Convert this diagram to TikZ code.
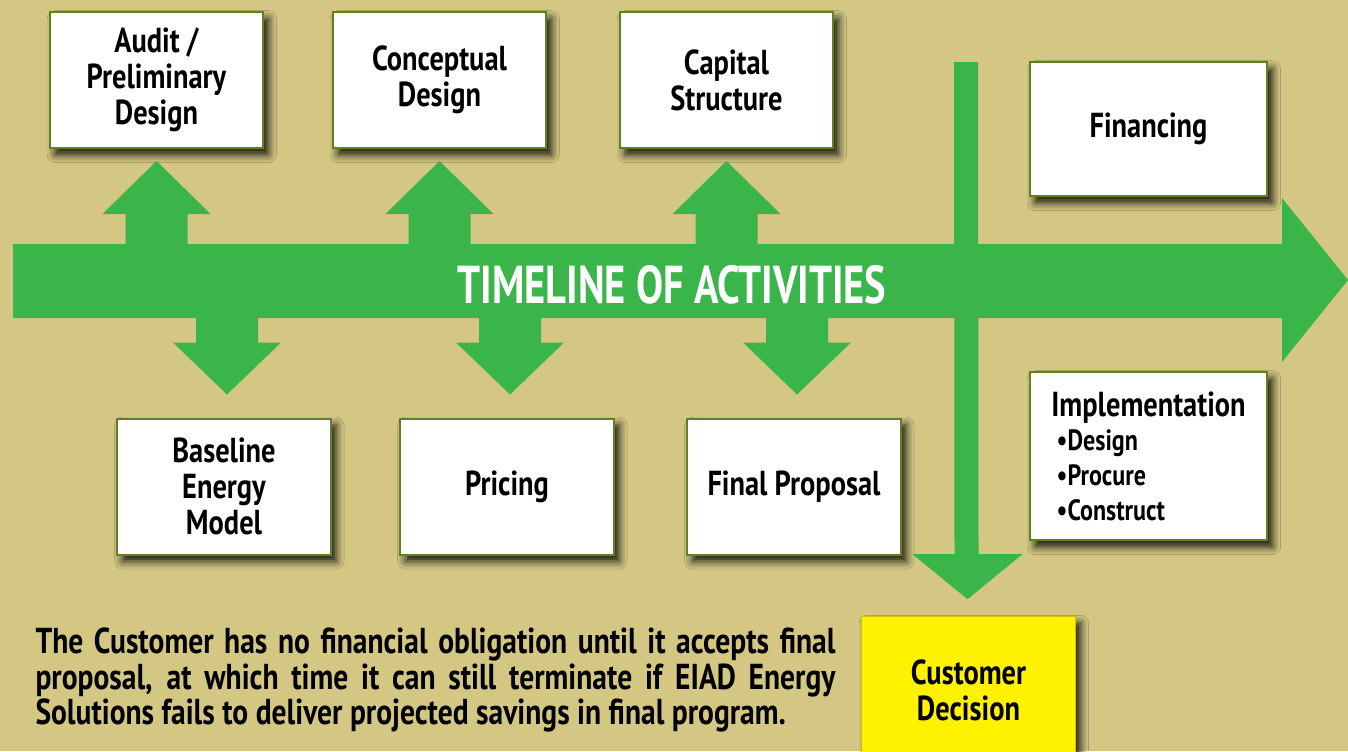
\documentclass[tikz,border=0pt]{standalone}
\usepackage{fontspec}
\setmainfont{PT Sans}[FakeStretch=0.82]
\newfontfamily\titlefont{PT Sans}[FakeStretch=0.76]
\usetikzlibrary{calc,shadows.blur}

\definecolor{bgtan}{RGB}{211,199,131}
\definecolor{timegreen}{RGB}{58,181,74}
\definecolor{boxedge}{RGB}{96,128,36}
\definecolor{decisionyellow}{RGB}{255,242,0}

\tikzset{every picture/.style={line width=0.75pt}}
\tikzset{
  stagebox/.style={draw=boxedge, line width=1.5pt, fill=white, align=center,
    minimum width=160pt, minimum height=102pt, inner sep=2pt,
    font=\fontsize{26}{27}\selectfont\bfseries,
    blur shadow={shadow xshift=4pt, shadow yshift=-5pt, shadow blur radius=6pt, shadow opacity=90}},
  timeline/.style={fill=timegreen, draw=none},
}

\begin{document}
\begin{tikzpicture}[x=0.75pt,y=0.75pt,yscale=-1,xscale=1]
%set diagram left start at 0, and has height of 751
\clip (0,0) rectangle (1348,751);
\fill[bgtan] (0,0) rectangle (1348,751);

% Stage boxes above the timeline
\node[stagebox] (audit) at (156.5,80) {Audit /\\Preliminary\\Design};
\node[stagebox] (concept) at (439.5,80) {Conceptual\\Design};
\node[stagebox] (capital) at (726.5,80) {Capital\\Structure};
\node[stagebox, minimum width=178pt, minimum height=100.5pt] (financing) at (1148.5,129) {Financing};

% Stage boxes below the timeline
\node[stagebox] (baseline) at (224,486.5) {Baseline\\Energy\\Model};
\node[stagebox] (pricing) at (507,486.5) {Pricing};
\node[stagebox] (proposal) at (794,486.5) {Final Proposal};
\node[stagebox, minimum width=178pt, minimum height=126pt, align=left] (implement) at (1148.5,456)
  {Implementation\\[-1pt]{\fontsize{22}{26}\selectfont\hspace*{4pt}\textbullet Design}\\[-1pt]
   {\fontsize{22}{26}\selectfont\hspace*{4pt}\textbullet Procure}\\[-1pt]
   {\fontsize{22}{26}\selectfont\hspace*{4pt}\textbullet Construct}};
\node[stagebox, fill=decisionyellow, draw=decisionyellow!80!black, line width=0.75pt, minimum height=110pt] (decision) at (968.5,690) {Customer\\Decision};

% Main timeline arrow
\fill[timeline] (13,244) -- (1282,244) -- (1282,198) -- (1348,280) -- (1282,362) -- (1282,318) -- (13,318) -- cycle;

% Up arrows to the boxes above
\foreach \b in {audit,concept,capital}
  \fill[timeline] ($(\b.south)+(-31,97)$) -- ($(\b.south)+(-31,65)$) -- ($(\b.south)+(-54,65)$) -- ($(\b.south)+(0,12)$)
    -- ($(\b.south)+(54,65)$) -- ($(\b.south)+(31,65)$) -- ($(\b.south)+(31,97)$) -- cycle;

% Down arrows to the boxes below
\foreach \b in {baseline,pricing,proposal}
  \fill[timeline] ($(\b.north)+(-28,-101)$) -- ($(\b.north)+(-28,-75)$) -- ($(\b.north)+(-51,-75)$) -- ($(\b.north)+(3,-23)$)
    -- ($(\b.north)+(57,-75)$) -- ($(\b.north)+(34,-75)$) -- ($(\b.north)+(34,-101)$) -- cycle;

% Decision arrow
\coordinate (decisiontop) at (966,62);
\fill[timeline] ($(decisiontop)+(-12,0)$) -- ($(decisiontop)+(12,0)$) -- ($(decision.north)+(10,-62)$) -- ($(decision.north)+(54,-62)$)
  -- ($(decision.north)+(-1,-17)$) -- ($(decision.north)+(-56,-62)$) -- ($(decision.north)+(-14,-62)$) -- cycle;

% Text Node
\node[text=white, font=\titlefont\fontsize{40}{40}\selectfont\bfseries] (title) at (672,285) {TIMELINE OF ACTIVITIES};
% Text Node
\node[text width=600pt, align=justify, inner sep=0pt, font=\fontsize{27}{26.6}\selectfont\bfseries] (note) at (435.5,680)
  {\hyphenpenalty=10000 \exhyphenpenalty=10000 The Customer has no financial obligation until it accepts final proposal, at which time it can still terminate if EIAD Energy Solutions fails to deliver projected savings in final program.\par};

\end{tikzpicture}
\end{document}
